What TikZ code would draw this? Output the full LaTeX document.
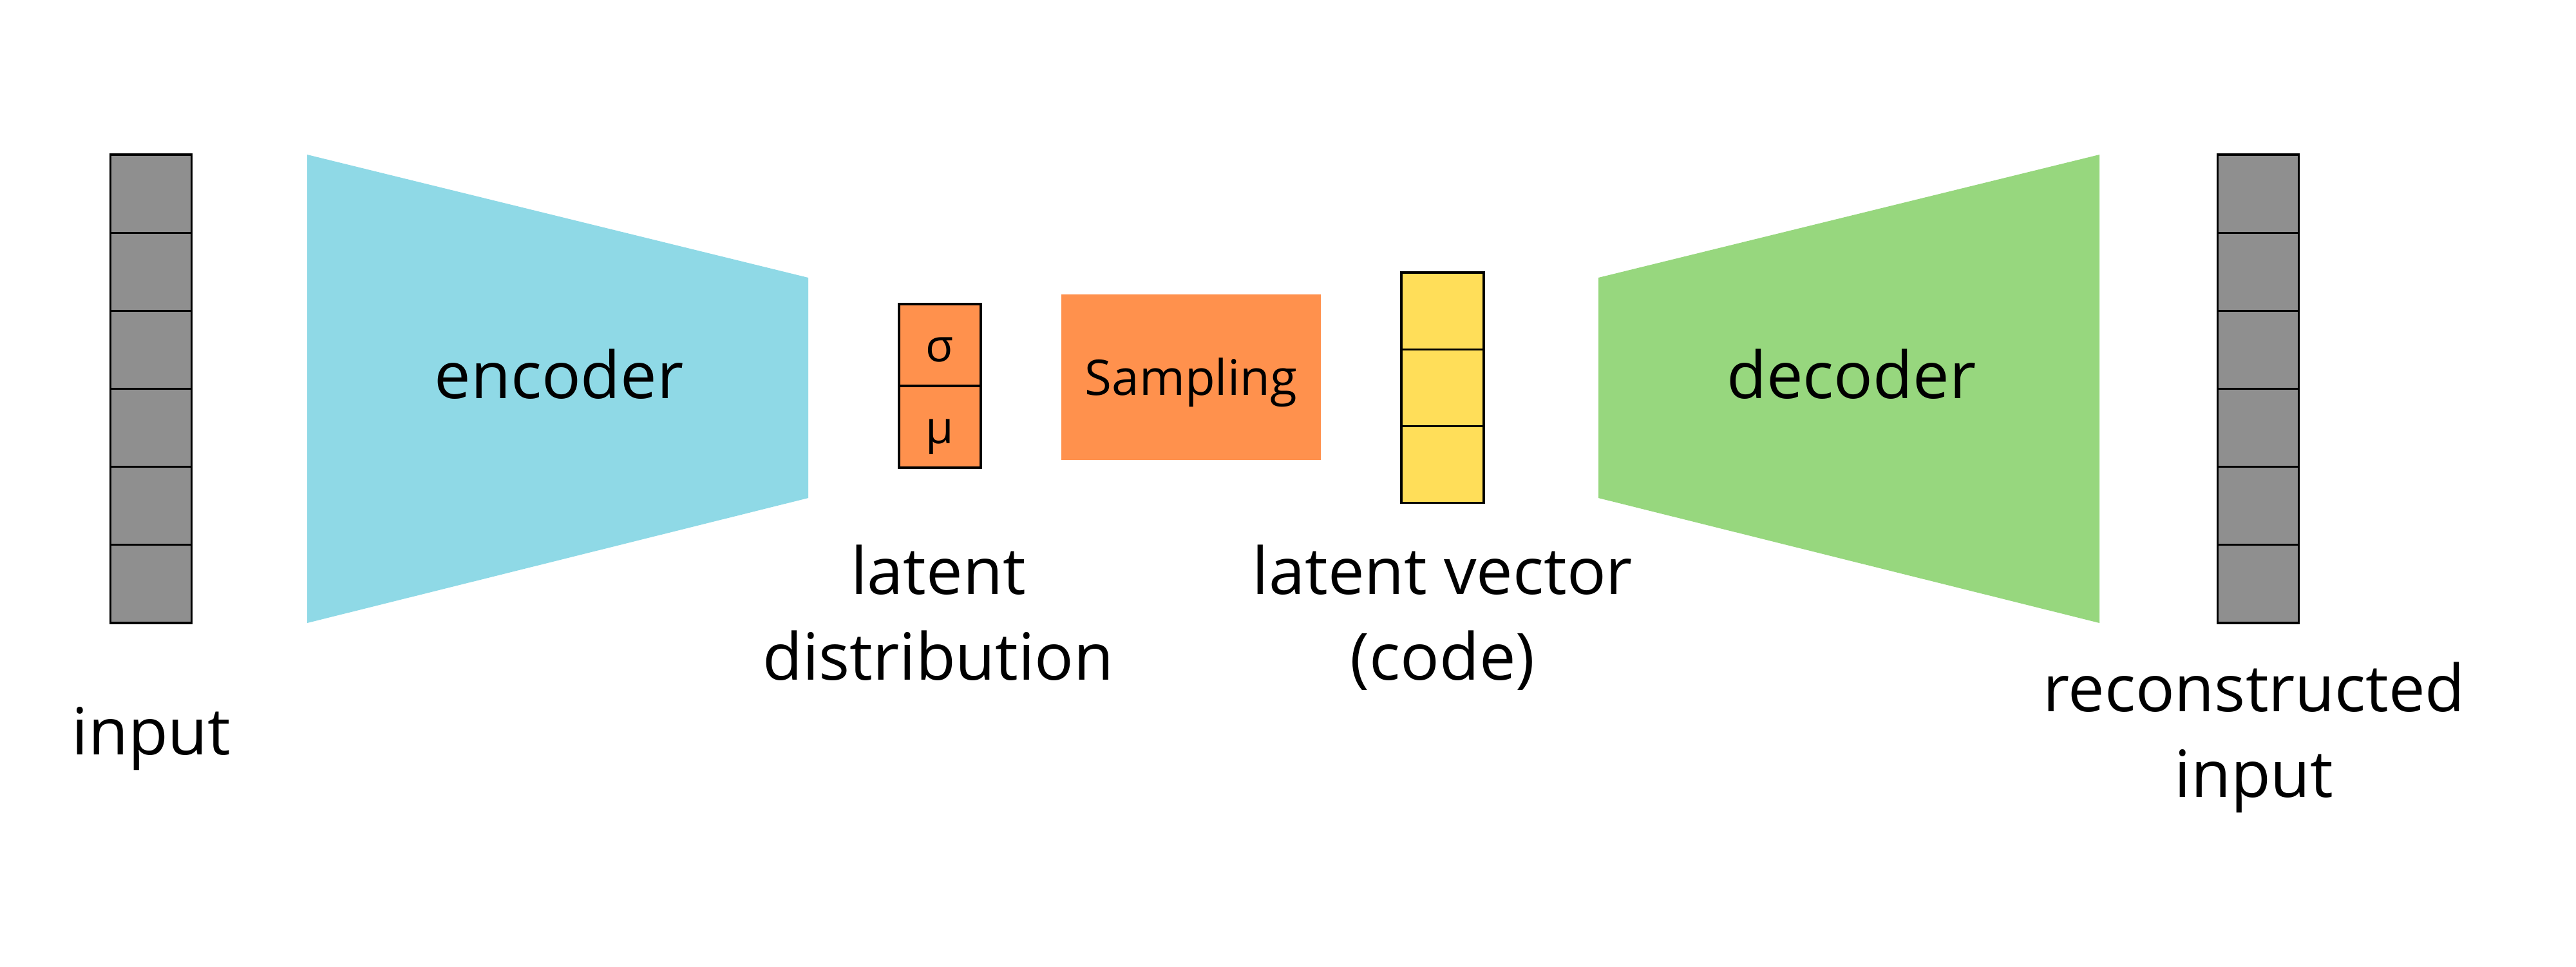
\documentclass[tikz,border=0pt]{standalone}
\usepackage{fontspec}
\setmainfont{Open Sans}
\definecolor{cellgray}{HTML}{8F8F8F}
\definecolor{enccyan}{HTML}{8FD9E6}
\definecolor{decgreen}{HTML}{97D77E}
\definecolor{distorange}{HTML}{FF914D}
\definecolor{codeyellow}{HTML}{FFDE59}
\begin{document}
\begin{tikzpicture}[x=1cm,y=1cm,
  cell/.style={draw=black, line width=0.9pt, minimum width=1.27cm, inner sep=0pt, outer sep=0pt},
  bigtext/.style={font=\fontsize{28.7}{37.6}\selectfont, inner sep=0pt, align=center, anchor=base},
  greek/.style={font=\fontsize{20}{24}\selectfont, text height=0.52cm, text depth=0cm}]
\useasboundingbox (0,0) rectangle (40,-15);
\fill[white] (0,0) rectangle (40,-15);

% input column
\foreach \i in {1,...,6} {
  \node[cell, fill=cellgray, minimum width=1.26cm, minimum height=1.2117cm] (in\i) at (2.345, {-2.40-(\i-0.5)*1.2117}) {};
}
% encoder
\fill[enccyan] (4.77,-2.40) -- (12.55,-4.31) -- (12.55,-7.73) -- (4.77,-9.67) -- cycle;
\node[bigtext] (enc) at (8.68,-6.18) {encoder};

% latent distribution
\node[cell, fill=distorange, greek, minimum height=1.27cm] (sigma) at (14.595,-5.355) {σ};
\node[cell, fill=distorange, greek, minimum height=1.27cm] (mu) at (14.595,-6.625) {μ};

% sampling
\node[fill=distorange, minimum width=4.03cm, minimum height=2.57cm, inner sep=0pt,
      font=\fontsize{21.7}{26}\selectfont, text height=0.56cm, text depth=0cm] (samp) at (18.495,-5.855) {Sampling};

% latent vector
\foreach \i in {1,2,3} {
  \node[cell, fill=codeyellow, minimum width=1.28cm, minimum height=1.193cm] (code\i) at (22.40, {-4.23-(\i-0.5)*1.193}) {};
}

% decoder
\fill[decgreen] (24.82,-4.31) -- (32.60,-2.40) -- (32.60,-9.67) -- (24.82,-7.73) -- cycle;
\node[bigtext] (dec) at (28.75,-6.18) {decoder};

% output column
\foreach \i in {1,...,6} {
  \node[cell, fill=cellgray, minimum width=1.26cm, minimum height=1.2117cm] (out\i) at (35.065, {-2.40-(\i-0.5)*1.2117}) {};
}

% labels (base anchor = baseline of the last line)
\node[bigtext] (lblin) at (2.35,-11.71) {input};
\node[bigtext] (lbldist) at (14.57,-10.55) {latent\\distribution};
\node[bigtext] (lblcode) at (22.40,-10.55) {latent vector\\(code)};
\node[bigtext] (lblout) at (35.00,-12.37) {reconstructed\\input};
\end{tikzpicture}
\end{document}
